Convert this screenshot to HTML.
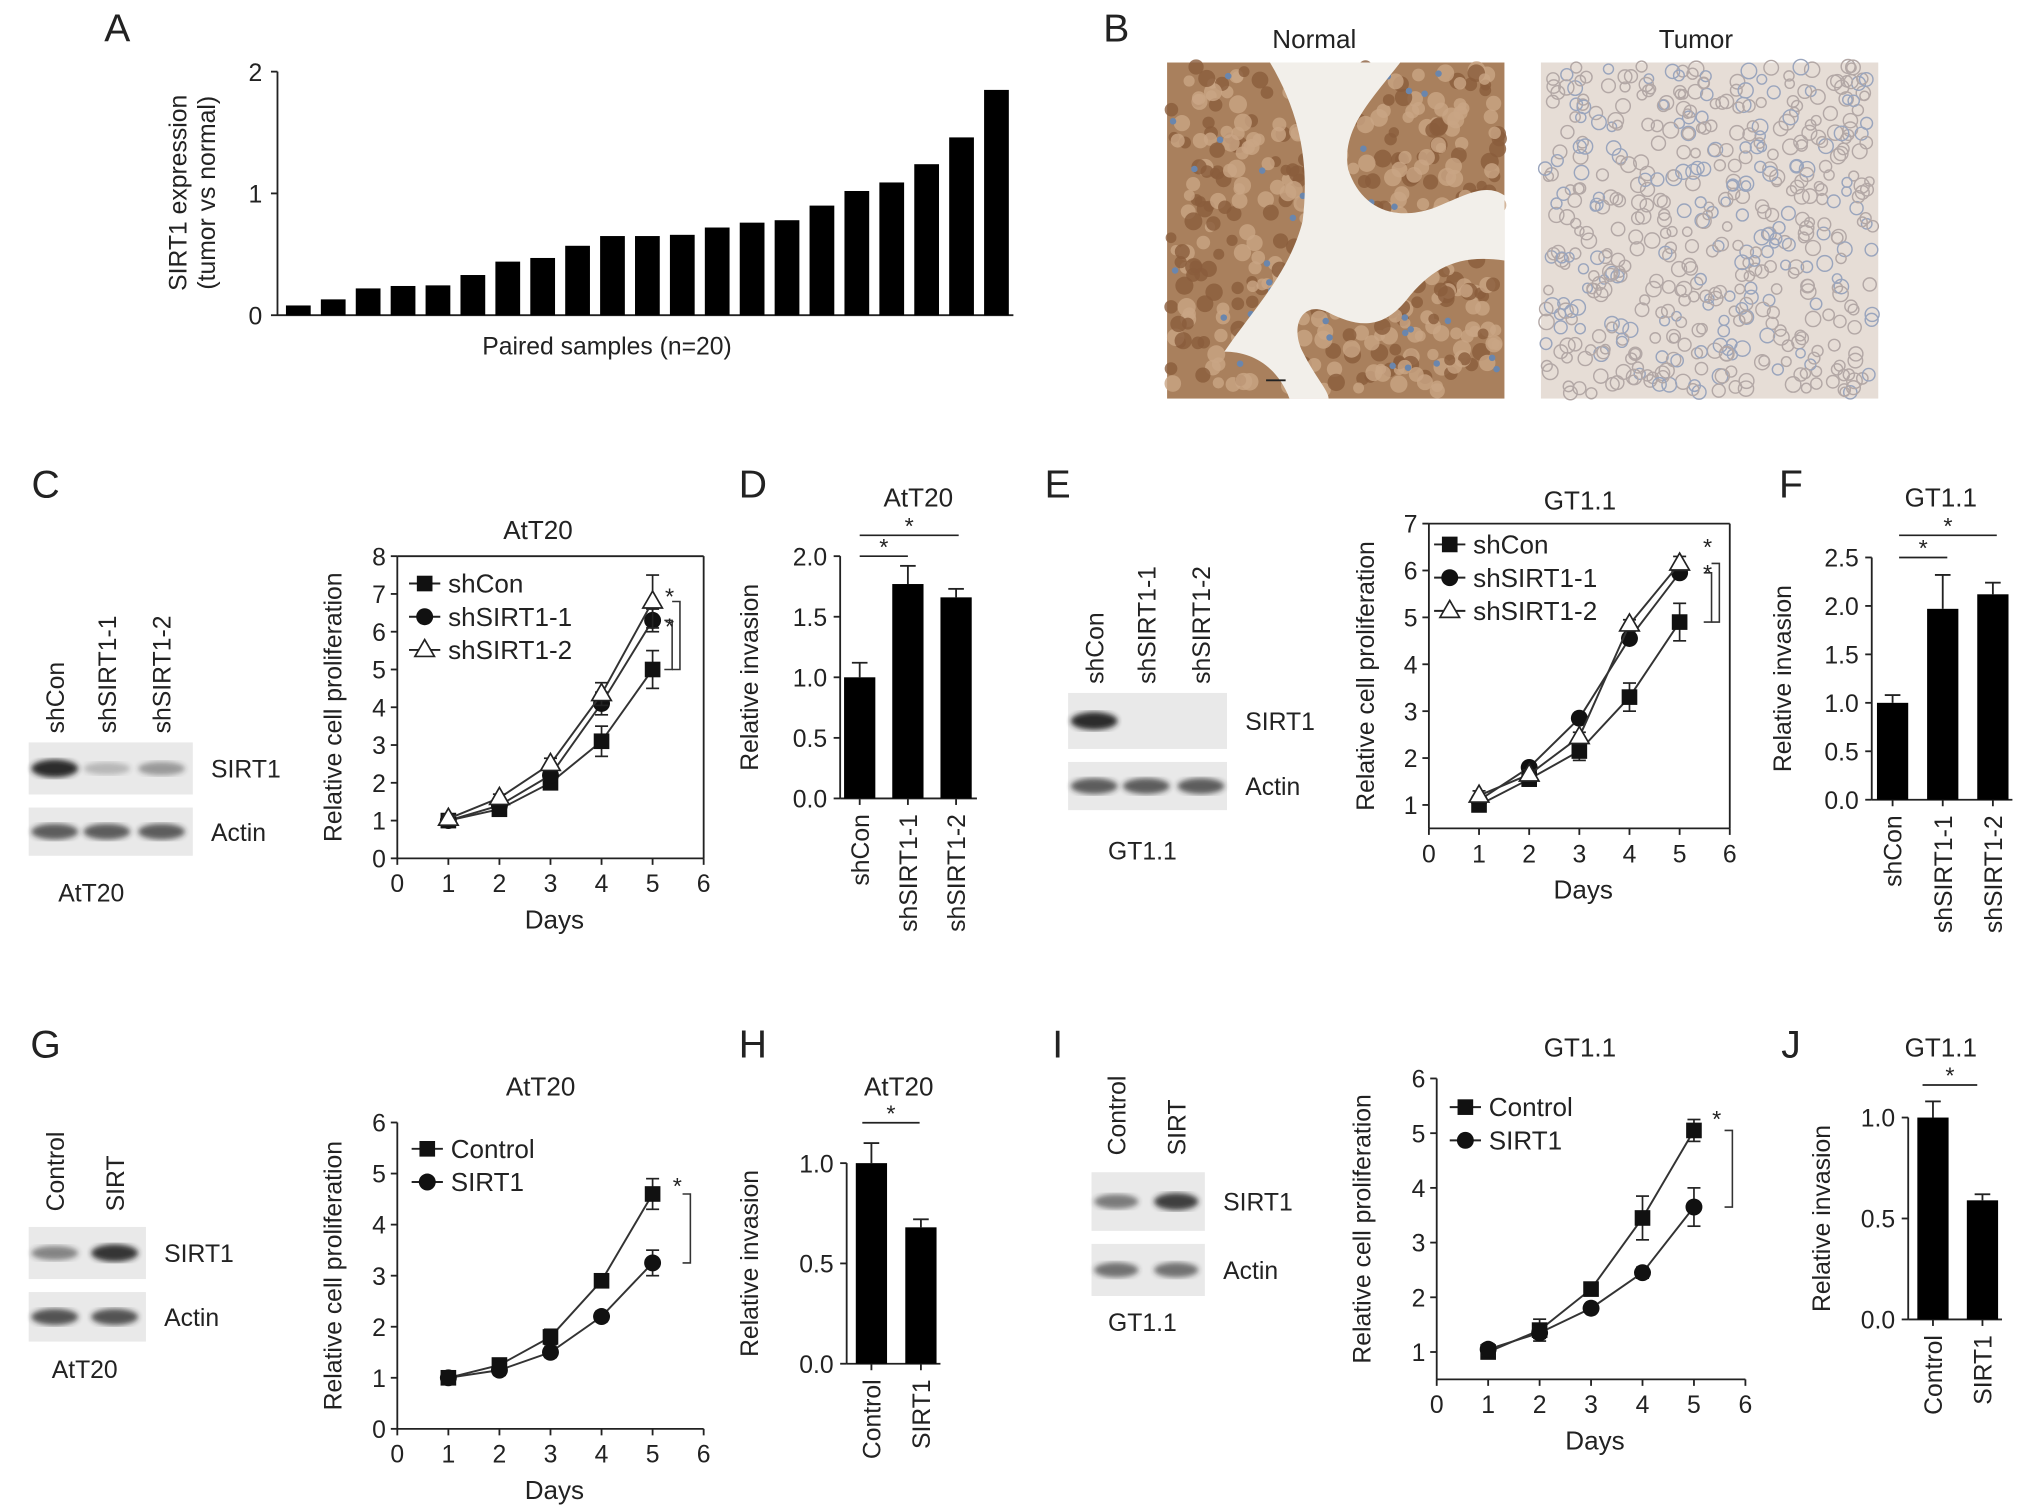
<!DOCTYPE html>
<html><head><meta charset="utf-8"><style>
html,body{margin:0;padding:0;background:#fff}
svg{display:block}
text{font-family:"Liberation Sans",Arial,sans-serif;fill:#222}
</style></head><body>
<svg id="fig" width="2032" height="1507" viewBox="0 0 1560 1157" xmlns="http://www.w3.org/2000/svg">
<defs>
<filter id="blur2"><feGaussianBlur stdDeviation="2"/></filter>
<filter id="blur1"><feGaussianBlur stdDeviation="0.8"/></filter>
</defs>
</svg>
<script>
// ---------- DATA ----------
// Panel A
const aValues = [0.08,0.13,0.22,0.24,0.245,0.33,0.44,0.47,0.57,0.65,0.65,0.66,0.72,0.76,0.78,0.90,1.02,1.09,1.24,1.46,1.85];
const aTicks = [0,1,2];
// Panel C (AtT20 knockdown proliferation)
const days = [1,2,3,4,5];
const dayTicks = [0,1,2,3,4,5,6];
const cShCon = [1.0,1.3,2.0,3.1,5.0];
const cShConErr = [0.1,0.1,0.15,0.4,0.5];
const cSh1 = [1.0,1.4,2.2,4.1,6.3];
const cSh1Err = [0.1,0.1,0.1,0.3,0.3];
const cSh2 = [1.05,1.6,2.5,4.35,6.8];
const cSh2Err = [0.1,0.1,0.15,0.3,0.7];
const cYTicks = [0,1,2,3,4,5,6,7,8];
// Panel D
const shCats = ["shCon","shSIRT1-1","shSIRT1-2"];
const dValues = [1.0,1.77,1.66];
const dErr = [0.12,0.15,0.07];
const dTicks = ["0.0","0.5","1.0","1.5","2.0"];
// Panel E (GT1.1 knockdown proliferation)
const eShCon = [1.0,1.55,2.15,3.3,4.9];
const eShConErr = [0.1,0.1,0.2,0.3,0.4];
const eSh1 = [1.1,1.8,2.85,4.55,5.95];
const eSh1Err = [0.1,0.1,0.1,0.1,0.1];
const eSh2 = [1.2,1.65,2.45,4.85,6.15];
const eSh2Err = [0.1,0.1,0.1,0.1,0.15];
const eYTicks = [1,2,3,4,5,6,7];
// Panel F
const fValues = [1.0,1.97,2.12];
const fErr = [0.08,0.35,0.12];
const fTicks = ["0.0","0.5","1.0","1.5","2.0","2.5"];
// Panel G (AtT20 overexpression)
const gControl = [1.0,1.25,1.8,2.9,4.6];
const gControlErr = [0.1,0.1,0.15,0.1,0.3];
const gSirt = [1.0,1.15,1.5,2.2,3.25];
const gSirtErr = [0.1,0.1,0.1,0.1,0.25];
const gYTicks = [0,1,2,3,4,5,6];
// Panel H
const ovCats = ["Control","SIRT1"];
const hValues = [1.0,0.68];
const hErr = [0.1,0.04];
const hTicks = ["0.0","0.5","1.0"];
// Panel I (GT1.1 overexpression)
const iControl = [1.0,1.4,2.15,3.45,5.05];
const iControlErr = [0.1,0.2,0.1,0.4,0.2];
const iSirt = [1.05,1.35,1.8,2.45,3.65];
const iSirtErr = [0.1,0.1,0.05,0.1,0.35];
const iYTicks = [1,2,3,4,5,6];
// Panel J
const jValues = [1.0,0.59];
const jErr = [0.08,0.03];
const jTicks = ["0.0","0.5","1.0"];

// ---------- HELPERS ----------
const NS = "http://www.w3.org/2000/svg";
const svg = document.getElementById('fig');
function el(tag, attrs, parent, name) {
  const e = document.createElementNS(NS, tag);
  for (const k in attrs) e.setAttribute(k, attrs[k]);
  
  
  (parent || svg).appendChild(e);
  return e;
}
function txt(x, y, s, size, name, opts) {
  opts = opts || {};
  const a = {x: x, y: y, 'font-size': size, 'text-anchor': opts.anchor || 'middle'};
  if (opts.rot) a.transform = 'rotate(' + opts.rot + ' ' + x + ' ' + y + ')';
  const t = el('text', a, opts.parent, name);
  t.textContent = s;
  return t;
}
function line(x1, y1, x2, y2, name, w, parent) {
  return el('line', {x1: x1, y1: y1, x2: x2, y2: y2, stroke: '#222', 'stroke-width': w || 1.4}, parent, name);
}
function group(name) { return el('g', {}, svg, name); }

[["A",90,32],["B",857,32],["C",35,382],["D",578,382],["E",812,382],["F",1375,382],["G",35,812],["H",578,812],["I",812,812],["J",1375,812]].forEach(p => {
  txt(p[1], p[2], p[0], 30, 'panel-label-' + p[0].toLowerCase());
});

// ---------- PANEL A ----------
(function(){
  const g = group('panel-a-chart');
  const sy = v => 242 - v * 93.5;
  const sx = i => 229 + i * 26.8;
  line(213, sy(2), 213, 242, 'a-y-axis', 1.4, g);
  line(213, 242, 778, 242, 'a-x-axis', 1.4, g);
  aTicks.forEach(t => {
    line(208, sy(t), 213, sy(t), 'a-y-tick', 1.4, g);
    txt(196, sy(t) + 7, String(t), 19, 'a-y-tick-label', {parent: g});
  });
  aValues.forEach((v, i) => {
    el('rect', {x: sx(i) - 9.5, y: sy(v), width: 19, height: 242 - sy(v), fill: '#000'}, g, 'a-bar');
  });
  txt(143, 148, 'SIRT1 expression', 19, 'a-y-axis-title-line1', {rot: -90, parent: g});
  txt(165, 148, '(tumor vs normal)', 19, 'a-y-axis-title-line2', {rot: -90, parent: g});
  txt(466, 272, 'Paired samples (n=20)', 19, 'a-x-axis-title', {parent: g});
})();

// ---------- PANEL B (histology) ----------
(function(){
  let seed = 7;
  const rnd = () => { seed = (seed * 16807) % 2147483647; return seed / 2147483647; };
  const gn = group('normal-tissue-image');
  el('rect', {x: 896, y: 48, width: 259, height: 258, fill: '#a9805d'}, gn, 'normal-bg');
  for (let i = 0; i < 450; i++) {
    const x = 899 + rnd() * 253, y = 51 + rnd() * 252;
    el('circle', {cx: x, cy: y, r: 4 + rnd() * 3, fill: rnd() < 0.5 ? '#8a5d3c' : '#c9a585', opacity: 0.8}, gn, 'normal-cell');
  }
  for (let i = 0; i < 50; i++) {
    el('circle', {cx: 899 + rnd() * 253, cy: 51 + rnd() * 252, r: 2.5, fill: '#6a86ad'}, gn, 'normal-nucleus');
  }
  el('path', {d: 'M975 48 L1075 48 C1050 80 1030 100 1035 130 C1045 160 1070 170 1100 160 C1125 150 1140 140 1155 150 L1155 200 C1120 195 1100 205 1080 230 C1060 255 1040 250 1020 240 C1000 230 990 250 1000 270 C1010 290 1020 300 1020 306 L990 306 C980 280 960 270 940 270 C960 240 990 210 1000 170 C1005 130 1000 90 975 48 Z', fill: '#f2efea'}, gn, 'normal-lumen');
  line(972, 292, 987, 292, 'scale-bar', 1.5, gn);
  txt(1009, 37, 'Normal', 20, 'normal-title');
  const gt = group('tumor-tissue-image');
  el('rect', {x: 1183, y: 48, width: 259, height: 258, fill: '#e6ddd6'}, gt, 'tumor-bg');
  for (let i = 0; i < 520; i++) {
    el('circle', {cx: 1186 + rnd() * 253, cy: 51 + rnd() * 252, r: 3.5 + rnd() * 2.5, fill: 'none', stroke: rnd() < 0.3 ? '#9aa5bd' : '#b3a8a6', 'stroke-width': 1.1}, gt, 'tumor-cell');
  }
  txt(1302, 37, 'Tumor', 20, 'tumor-title');
})();

// ---------- WESTERN BLOTS ----------
function blot(cfg) {
  const g = group(cfg.name);
  cfg.lanes.forEach((l, i) => txt(cfg.laneX[i] + 7, cfg.laneY, l, 19, 'lane-label', {rot: -90, anchor: 'start', parent: g}));
  cfg.rows.forEach(r => {
    el('rect', {x: cfg.x, y: r.y, width: cfg.w, height: r.h, fill: '#e9e9e9'}, g, 'blot-membrane');
    r.bands.forEach((b, bi) => {
      if (b > 0) el('ellipse', {cx: cfg.laneX[bi], cy: r.y + r.h / 2, rx: cfg.bandW / 2, ry: 4 + 3 * b, fill: '#222', opacity: b, filter: 'url(#blur2)'}, g, 'blot-band');
    });
    txt(cfg.x + cfg.w + 14, r.y + r.h / 2 + 7, r.label, 19, 'blot-row-label', {anchor: 'start', parent: g});
  });
  txt(cfg.cellX, cfg.cellY, cfg.cell, 19, 'blot-cell-line', {parent: g});
}
blot({name: 'c-western-blot', x: 22, w: 126, lanes: shCats, laneX: [42, 82, 124], laneY: 563, bandW: 36,
  rows: [{y: 570, h: 40, label: 'SIRT1', bands: [0.95, 0.25, 0.4]}, {y: 620, h: 37, label: 'Actin', bands: [0.7, 0.7, 0.7]}],
  cell: 'AtT20', cellX: 70, cellY: 692});
blot({name: 'e-western-blot', x: 820, w: 122, lanes: shCats, laneX: [840, 880, 922], laneY: 525, bandW: 36,
  rows: [{y: 532, h: 43, label: 'SIRT1', bands: [0.95, 0, 0]}, {y: 585, h: 37, label: 'Actin', bands: [0.7, 0.7, 0.7]}],
  cell: 'GT1.1', cellX: 877, cellY: 660});
blot({name: 'g-western-blot', x: 22, w: 90, lanes: ['Control', 'SIRT'], laneX: [42, 88], laneY: 930, bandW: 36,
  rows: [{y: 942, h: 40, label: 'SIRT1', bands: [0.5, 0.9]}, {y: 992, h: 38, label: 'Actin', bands: [0.75, 0.75]}],
  cell: 'AtT20', cellX: 65, cellY: 1058});
blot({name: 'i-western-blot', x: 838, w: 87, lanes: ['Control', 'SIRT'], laneX: [857, 903], laneY: 887, bandW: 34,
  rows: [{y: 900, h: 45, label: 'SIRT1', bands: [0.55, 0.85]}, {y: 955, h: 40, label: 'Actin', bands: [0.6, 0.6]}],
  cell: 'GT1.1', cellX: 877, cellY: 1022});

// ---------- LINE CHARTS ----------
function marker(g, type, x, y) {
  if (type === 'square') el('rect', {x: x - 6, y: y - 6, width: 12, height: 12, fill: '#111'}, g, 'square-marker');
  else if (type === 'circle') el('circle', {cx: x, cy: y, r: 6.5, fill: '#111'}, g, 'circle-marker');
  else el('path', {d: `M${x} ${y - 8} L${x + 7.5} ${y + 5} L${x - 7.5} ${y + 5} Z`, fill: '#fff', stroke: '#222', 'stroke-width': 1.3}, g, 'triangle-marker');
}
function lineChart(c) {
  const g = group(c.name);
  const sx = d => c.x0 + d * c.kx;
  const sy = v => c.yZero - v * c.ky;
  const xr = sx(6), yb = sy(c.ymin), yt = sy(c.ymax);
  line(c.x0, yt, c.x0, yb, 'y-axis', 1.4, g);
  line(c.x0, yb, xr, yb, 'x-axis', 1.4, g);
  if (c.box) { line(c.x0, yt, xr, yt, 'plot-frame-top', 1.4, g); line(xr, yt, xr, yb, 'plot-frame-right', 1.4, g); }
  c.yTicks.forEach(t => {
    line(c.x0 - 5, sy(t), c.x0, sy(t), 'y-tick', 1.4, g);
    txt(c.x0 - 14, sy(t) + 7, String(t), 19, 'y-tick-label', {parent: g});
  });
  dayTicks.forEach(t => {
    line(sx(t), yb, sx(t), yb + 5, 'x-tick', 1.4, g);
    txt(sx(t), yb + 26, String(t), 19, 'x-tick-label', {parent: g});
  });
  txt(c.x0 + 3 * c.kx + 3, yb + 54, 'Days', 20, 'x-axis-title', {parent: g});
  txt(c.yTitleX, (yt + yb) / 2, 'Relative cell proliferation', 19, 'y-axis-title', {rot: -90, parent: g});
  txt(c.titleX, c.titleY, c.title, 20, 'chart-title', {parent: g});
  c.series.forEach(s => {
    const sg = el('g', {}, g, 'series-' + s.label.toLowerCase());
    el('polyline', {points: days.map((d, i) => sx(d) + ',' + sy(s.values[i])).join(' '), fill: 'none', stroke: '#333', 'stroke-width': 1.5}, sg, 'series-line');
    days.forEach((d, i) => {
      const x = sx(d), v = s.values[i], e = s.err[i];
      line(x, sy(v + e), x, sy(v - e), 'error-bar', 1.3, sg);
      line(x - 5, sy(v + e), x + 5, sy(v + e), 'error-cap', 1.3, sg);
      line(x - 5, sy(v - e), x + 5, sy(v - e), 'error-cap', 1.3, sg);
    });
    days.forEach((d, i) => marker(sg, s.marker, sx(d), sy(s.values[i])));
  });
  c.series.forEach((s, i) => {
    const ly = c.legY + i * 25.5;
    const lg = el('g', {}, g, 'legend-entry');
    line(c.legX - 12, ly, c.legX + 12, ly, 'legend-line', 1.5, lg);
    marker(lg, s.marker, c.legX, ly);
    txt(c.legX + 18, ly + 7, s.label, 20, 'legend-label', {anchor: 'start', parent: lg});
  });
  c.brackets.forEach(b => {
    const bx = b.x, y1 = sy(b.v1), y2 = sy(b.v2);
    el('polyline', {points: `${bx - 6},${y1} ${bx},${y1} ${bx},${y2} ${bx - 6},${y2}`, fill: 'none', stroke: '#333', 'stroke-width': 1.2}, g, 'significance-bracket');
    txt(b.sx, sy(b.sv) + 8, '*', 18, 'significance-star', {parent: g});
  });
}
lineChart({name: 'c-proliferation-chart', title: 'AtT20', titleX: 413, titleY: 414, x0: 305, kx: 39.2, yZero: 659, ky: 29, ymin: 0, ymax: 8, box: true,
  yTicks: cYTicks, yTitleX: 262, legX: 326, legY: 448,
  series: [{label: 'shCon', values: cShCon, err: cShConErr, marker: 'square'},
           {label: 'shSIRT1-1', values: cSh1, err: cSh1Err, marker: 'circle'},
           {label: 'shSIRT1-2', values: cSh2, err: cSh2Err, marker: 'triangle'}],
  brackets: [{x: 522, v1: 6.8, v2: 5.0, sx: 514, sv: 7.0}, {x: 516, v1: 6.3, v2: 5.0, sx: 514, sv: 6.2}]});
lineChart({name: 'e-proliferation-chart', title: 'GT1.1', titleX: 1213, titleY: 391, x0: 1097, kx: 38.5, yZero: 654, ky: 36, ymin: 0.5, ymax: 7, box: true,
  yTicks: eYTicks, yTitleX: 1055, legX: 1113, legY: 418,
  series: [{label: 'shCon', values: eShCon, err: eShConErr, marker: 'square'},
           {label: 'shSIRT1-1', values: eSh1, err: eSh1Err, marker: 'circle'},
           {label: 'shSIRT1-2', values: eSh2, err: eSh2Err, marker: 'triangle'}],
  brackets: [{x: 1320, v1: 6.15, v2: 4.9, sx: 1311, sv: 6.55}, {x: 1314, v1: 5.95, v2: 4.9, sx: 1311, sv: 6.0}]});
lineChart({name: 'g-proliferation-chart', title: 'AtT20', titleX: 415, titleY: 841, x0: 305, kx: 39.2, yZero: 1097, ky: 39.2, ymin: 0, ymax: 6, box: false,
  yTicks: gYTicks, yTitleX: 262, legX: 328, legY: 882,
  series: [{label: 'Control', values: gControl, err: gControlErr, marker: 'square'},
           {label: 'SIRT1', values: gSirt, err: gSirtErr, marker: 'circle'}],
  brackets: [{x: 530, v1: 4.6, v2: 3.25, sx: 520, sv: 4.8}]});
lineChart({name: 'i-proliferation-chart', title: 'GT1.1', titleX: 1213, titleY: 811, x0: 1103, kx: 39.5, yZero: 1080, ky: 42, ymin: 0.5, ymax: 6, box: false,
  yTicks: iYTicks, yTitleX: 1052, legX: 1125, legY: 850,
  series: [{label: 'Control', values: iControl, err: iControlErr, marker: 'square'},
           {label: 'SIRT1', values: iSirt, err: iSirtErr, marker: 'circle'}],
  brackets: [{x: 1330, v1: 5.05, v2: 3.65, sx: 1318, sv: 5.3}]});

// ---------- BAR CHARTS ----------
function barChart(c) {
  const g = group(c.name);
  const sy = v => c.yZero - v * c.ky;
  const top = sy(Number(c.ticks[c.ticks.length - 1]));
  line(c.x0, top, c.x0, c.yZero, 'y-axis', 1.4, g);
  line(c.x0, c.yZero, c.x1, c.yZero, 'x-axis', 1.4, g);
  c.ticks.forEach(t => {
    line(c.x0 - 5, sy(Number(t)), c.x0, sy(Number(t)), 'y-tick', 1.4, g);
    txt(c.x0 - 10, sy(Number(t)) + 7, t, 19, 'y-tick-label', {anchor: 'end', parent: g});
  });
  c.values.forEach((v, i) => {
    const x = c.bx0 + i * c.bstep, e = c.err[i];
    line(x, sy(v + e), x, sy(v), 'error-bar', 1.4, g);
    line(x - 6, sy(v + e), x + 6, sy(v + e), 'error-cap', 1.4, g);
    el('rect', {x: x - 12, y: sy(v), width: 24, height: c.yZero - sy(v), fill: '#000'}, g, 'bar-' + c.cats[i].toLowerCase());
    line(x, c.yZero, x, c.yZero + 5, 'x-tick', 1.4, g);
    txt(x + 7, c.yZero + 12, c.cats[i], 19, 'x-tick-label', {rot: -90, anchor: 'end', parent: g});
  });
  txt(c.yTitleX, (top + c.yZero) / 2, 'Relative invasion', 19, 'y-axis-title', {rot: -90, parent: g});
  txt(c.titleX, c.titleY, c.title, 20, 'chart-title', {parent: g});
  c.sig.forEach(s => {
    line(s.x1, s.y, s.x2, s.y, 'significance-line', 1.3, g);
    txt((s.x1 + s.x2) / 2, s.y - 1, '*', 18, 'significance-star', {parent: g});
  });
}
barChart({name: 'd-invasion-chart', title: 'AtT20', titleX: 705, titleY: 389, x0: 645, x1: 750, yZero: 613, ky: 93, ticks: dTicks,
  cats: shCats, values: dValues, err: dErr, bx0: 660, bstep: 37, yTitleX: 582,
  sig: [{x1: 660, x2: 697, y: 427}, {x1: 660, x2: 736, y: 411}]});
barChart({name: 'f-invasion-chart', title: 'GT1.1', titleX: 1490, titleY: 389, x0: 1437, x1: 1545, yZero: 614, ky: 74.4, ticks: fTicks,
  cats: shCats, values: fValues, err: fErr, bx0: 1453, bstep: 38.5, yTitleX: 1375,
  sig: [{x1: 1458, x2: 1495, y: 428}, {x1: 1458, x2: 1533, y: 411}]});
barChart({name: 'h-invasion-chart', title: 'AtT20', titleX: 690, titleY: 841, x0: 650, x1: 722, yZero: 1047, ky: 154, ticks: hTicks,
  cats: ovCats, values: hValues, err: hErr, bx0: 669, bstep: 38, yTitleX: 582,
  sig: [{x1: 662, x2: 706, y: 862}]});
barChart({name: 'j-invasion-chart', title: 'GT1.1', titleX: 1490, titleY: 811, x0: 1465, x1: 1537, yZero: 1013, ky: 155, ticks: jTicks,
  cats: ovCats, values: jValues, err: jErr, bx0: 1484, bstep: 38, yTitleX: 1405,
  sig: [{x1: 1476, x2: 1518, y: 833}]});
</script>
</body></html>
